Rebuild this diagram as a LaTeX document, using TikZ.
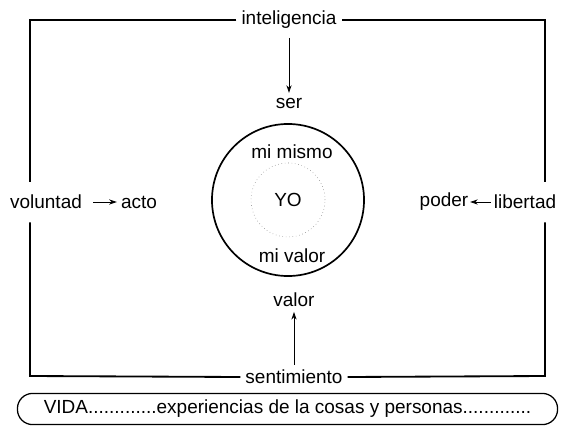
\documentclass[tikz,border=0pt]{standalone}
\usepackage{fontspec}
\setmainfont{Liberation Sans}
\usetikzlibrary{arrows.meta,positioning,shapes}

\begin{document}
\begin{tikzpicture}[x=0.025cm,y=-0.025cm,
    font=\fontsize{13.5}{16}\selectfont,
    >={Stealth[length=0.19cm,width=0.13cm]},
    lbl/.style={inner sep=0.12cm},
    side/.style={minimum height=1cm,inner sep=0pt},
    frame/.style={line width=1.3pt},
    flow/.style={->,line width=0.6pt}]
\useasboundingbox (0,0) rectangle (563,426);
% labels on the frame
\node [lbl] (intel) at (289,20) {inteligencia};
\node [lbl] (senti) at (294,377) {sentimiento};
\node [side] (volunt) at (46,202) {voluntad};
\node [side] (liber) at (525,202) {libertad};
% corners of the frame
\coordinate (tl) at (30,20);
\coordinate (tr) at (545,20);
\coordinate (bl) at (30,376);
\coordinate (br) at (545,376);
\draw[frame] (intel.west) -- (tl) -- (tl |- volunt.north);
\draw[frame] (tl |- volunt.south) -- (bl) -- (senti.west);
\draw[frame] (senti.east) -- (br) -- (br |- liber.south);
\draw[frame] (br |- liber.north) -- (tr) -- (intel.east);
% inner words
\node (ser) at (289,103) {ser};
\draw[flow,shorten <=0.1cm] (intel) -- (ser);
\node (valor) at (294,300) {valor};
\draw[flow] (senti) -- (valor);
\node [side] (acto) at (139,202) {acto};
\draw[flow,shorten <=0.28cm,shorten >=0.1cm] (volunt) -- (acto);
\node [side] (poder) at (444,202) {poder};
\draw[flow,shorten <=0.06cm,shorten >=0.04cm] (liber) -- (poder);
% the self
\node [circle,draw,line width=1.2pt,minimum size=3.8cm] (self) at (288,200) {};
\node [circle,draw=gray,dotted,minimum size=1.85cm] (yo) at (288,200) {YO};
\node (mismo) at (292,152) {mi mismo};
\node (mivalor) at (292,256) {mi valor};
% life
\node [draw,line width=0.9pt,rounded corners=0.38cm,minimum width=13.5cm,minimum height=0.78cm] (vida) at (287.5,409)
    {VIDA.............experiencias de la cosas y personas.............};
\end{tikzpicture}
\end{document}
